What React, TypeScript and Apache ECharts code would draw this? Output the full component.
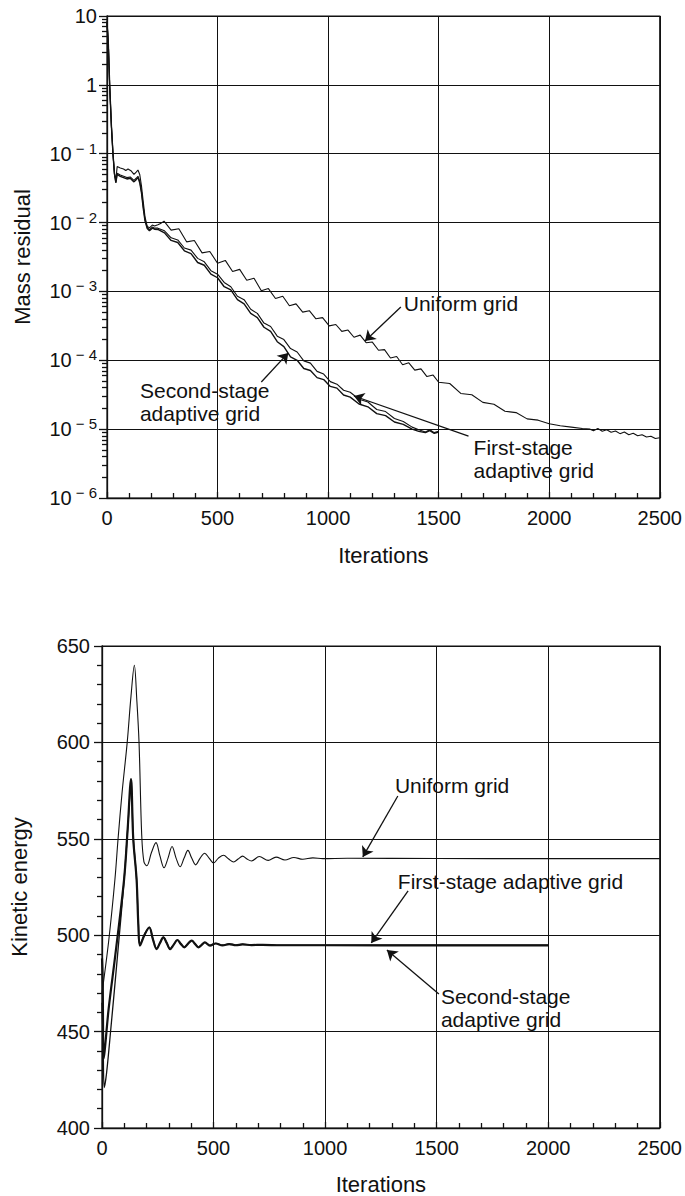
import React, { useEffect, useRef } from "react";
import * as echarts from "echarts";

// ---------- axes / ticks ----------
const iterTicks = [0, 500, 1000, 1500, 2000, 2500];
const massTickValues = [1e-6, 1e-5, 1e-4, 1e-3, 1e-2, 1e-1, 1, 10];
const massTickBase = ["10", "10", "10", "10", "10", "10", "1", "10"];
const massTickExp = ["− 6", "− 5", "− 4", "− 3", "− 2", "− 1", "", ""];
const minorMultipliers = [2, 3, 4, 5, 6, 7, 8, 9];
const minorDecades = [1e-6, 1e-5, 1e-4, 1e-3, 1e-2, 1e-1, 1];
const keTicks = [400, 450, 500, 550, 600, 650];

// ---------- top chart: mass residual vs iterations ----------
const massUniform: [number, number][] = [
  [0, 8.5], [6, 4], [12, 1.0], [20, 0.25], [27, 0.1], [34, 0.05], [40, 0.042], [46, 0.065],
  [60, 0.062], [75, 0.06], [85, 0.057], [95, 0.06], [110, 0.056], [122, 0.05], [132, 0.054],
  [140, 0.058], [148, 0.05], [156, 0.034], [164, 0.02], [172, 0.012], [182, 0.0088], [192, 0.0084],
  [205, 0.0092], [215, 0.0089], [230, 0.0093], [245, 0.0098], [258, 0.0105], [290, 0.00776],
  [325, 0.00813], [360, 0.00525], [395, 0.0055], [430, 0.00363], [465, 0.0038], [500, 0.00257],
  [535, 0.00282], [568, 0.00195], [600, 0.00209], [632, 0.00145], [665, 0.00155], [698, 0.00102],
  [730, 0.0011], [762, 7.9e-4], [795, 8.5e-4], [825, 6.2e-4], [855, 6.6e-4], [885, 5.0e-4],
  [915, 5.25e-4], [945, 4.0e-4], [975, 4.17e-4], [1005, 3.16e-4], [1035, 3.31e-4], [1062, 2.63e-4],
  [1090, 2.75e-4], [1117, 2.16e-4], [1145, 2.32e-4], [1172, 1.8e-4], [1200, 1.84e-4], [1228, 1.4e-4],
  [1255, 1.43e-4], [1282, 1.08e-4], [1310, 1.135e-4], [1337, 8.6e-5], [1365, 9.2e-5], [1392, 7.2e-5],
  [1420, 7.5e-5], [1447, 5.8e-5], [1475, 6.1e-5], [1500, 4.8e-5], [1550, 4.6e-5], [1600, 3.3e-5],
  [1650, 3.16e-5], [1700, 2.45e-5], [1750, 2.3e-5], [1800, 1.82e-5], [1850, 1.74e-5], [1900, 1.41e-5],
  [1950, 1.35e-5], [2000, 1.2e-5], [2050, 1.12e-5], [2100, 1.07e-5], [2150, 1.02e-5], [2185, 1.0e-5],
  [2200, 9.5e-6], [2220, 1.02e-5], [2240, 9.3e-6], [2260, 9.8e-6], [2280, 9.0e-6], [2300, 9.4e-6],
  [2320, 8.6e-6], [2340, 9.1e-6], [2360, 8.3e-6], [2380, 8.7e-6], [2400, 8.0e-6], [2420, 8.3e-6],
  [2440, 7.7e-6], [2460, 7.9e-6], [2480, 7.3e-6], [2500, 7.5e-6],
];

const massFirstStage: [number, number][] = [
  [0, 8.0], [6, 4], [12, 1.0], [20, 0.25], [27, 0.1], [34, 0.05], [40, 0.038], [46, 0.052],
  [60, 0.049], [75, 0.047], [90, 0.045], [105, 0.046], [122, 0.041], [132, 0.044], [140, 0.047],
  [148, 0.04], [156, 0.028], [164, 0.017], [172, 0.011], [182, 0.0085], [192, 0.0079], [205, 0.0086],
  [215, 0.0083], [230, 8.3e-3], [260, 7.6e-3], [290, 6.0e-3], [320, 5.6e-3], [350, 4.27e-3],
  [380, 3.98e-3], [410, 3.02e-3], [440, 2.69e-3], [470, 2.0e-3], [500, 1.78e-3], [530, 1.35e-3],
  [560, 1.17e-3], [590, 8.5e-4], [620, 7.6e-4], [650, 5.5e-4], [680, 4.8e-4], [710, 3.47e-4],
  [740, 3.09e-4], [770, 2.24e-4], [800, 2.0e-4], [830, 1.48e-4], [860, 1.32e-4], [890, 9.8e-5],
  [920, 9.1e-5], [950, 6.9e-5], [980, 6.3e-5], [1010, 4.9e-5], [1040, 4.5e-5], [1070, 3.67e-5],
  [1100, 3.43e-5], [1140, 2.72e-5], [1180, 2.48e-5], [1220, 1.93e-5], [1260, 1.8e-5], [1300, 1.43e-5],
  [1340, 1.29e-5], [1380, 1.07e-5], [1410, 9.8e-6], [1440, 9.1e-6], [1460, 9.8e-6], [1480, 8.9e-6],
  [1500, 9.3e-6],
];

const massSecondStage: [number, number][] = [
  [0, 8.0], [6, 4], [12, 1.0], [20, 0.25], [27, 0.1], [34, 0.05], [40, 0.038], [46, 0.05],
  [60, 0.047], [75, 0.045], [90, 0.043], [105, 0.044], [122, 0.039], [132, 0.042], [140, 0.045],
  [148, 0.038], [156, 0.027], [164, 0.016], [172, 0.0105], [182, 0.0082], [192, 0.0076], [205, 0.0083],
  [215, 0.008], [230, 7.94e-3], [260, 7.08e-3], [290, 5.5e-3], [320, 5.13e-3], [350, 3.89e-3],
  [380, 3.55e-3], [410, 2.63e-3], [440, 2.4e-3], [470, 1.78e-3], [500, 1.58e-3], [530, 1.17e-3],
  [560, 1.05e-3], [590, 7.6e-4], [620, 6.6e-4], [650, 4.8e-4], [680, 4.17e-4], [710, 3.02e-4],
  [740, 2.63e-4], [770, 1.86e-4], [800, 1.58e-4], [830, 1.12e-4], [860, 1.0e-4], [890, 7.6e-5],
  [920, 7.1e-5], [950, 5.6e-5], [980, 5.25e-5], [1010, 4.17e-5], [1040, 3.94e-5], [1070, 3.13e-5],
  [1100, 2.92e-5], [1140, 2.32e-5], [1180, 2.11e-5], [1220, 1.68e-5], [1260, 1.57e-5], [1300, 1.27e-5],
  [1340, 1.17e-5], [1380, 1.0e-5], [1410, 9.3e-6], [1440, 8.9e-6], [1460, 9.5e-6], [1480, 8.7e-6],
  [1500, 9.1e-6],
];

// ---------- bottom chart: kinetic energy vs iterations ----------
const keUniform: [number, number][] = [
  [0, 470], [30, 497], [58, 529], [72, 550], [90, 574], [113, 600], [130, 624], [145, 640],
  [156, 622], [166, 600], [178, 552], [188, 538], [201, 536], [222, 543], [242, 548], [260, 541],
  [278, 535], [296, 540], [314, 546], [332, 540], [350, 535.5], [368, 540], [385, 544], [402, 540],
  [420, 536.5], [440, 540], [460, 542.5], [480, 540], [500, 537.5], [522, 540], [545, 541.5],
  [568, 539.5], [590, 538], [610, 539.5], [630, 541], [650, 539.5], [670, 538.5], [705, 540.8],
  [745, 538.8], [780, 540.5], [820, 539], [860, 540.3], [900, 539.4], [945, 540.1], [990, 539.7],
  [1100, 539.9], [1500, 539.8], [2000, 539.7], [2500, 539.7],
];

const keFirstStage: [number, number][] = [
  [0, 465], [5, 445], [10, 421], [20, 428], [40, 452], [70, 490], [100, 530], [118, 560], [130, 579],
  [140, 551], [155, 529], [163, 506], [170, 495], [190, 500.3], [212, 504.2], [228, 498.2],
  [245, 493], [260, 496.1], [275, 499], [290, 496.1], [305, 493], [321, 495.1], [338, 497.6],
  [353, 495.6], [369, 493.8], [385, 495.6], [402, 497.2], [417, 495.6], [432, 493.8], [447, 495.1],
  [461, 496.3], [484, 494.7], [510, 495.8], [540, 494.8], [570, 495.5], [600, 494.9], [630, 495.3],
  [670, 495], [720, 495.1], [800, 494.9], [1000, 494.9], [1500, 494.8], [2000, 494.8],
];

const keSecondStage: [number, number][] = [
  [0, 488], [3, 478], [7, 436], [12, 440], [30, 462], [60, 490], [99, 529], [115, 555], [130, 581],
  [140, 550], [155, 529], [163, 505], [170, 494.6], [190, 500], [212, 504], [228, 498], [245, 492.8],
  [260, 496], [275, 498.9], [290, 496], [305, 492.8], [321, 495], [338, 497.5], [353, 495.5],
  [369, 493.7], [385, 495.5], [402, 497.2], [417, 495.5], [432, 493.7], [447, 495], [461, 496.3],
  [484, 494.6], [510, 495.7], [540, 494.7], [570, 495.4], [600, 494.8], [630, 495.2], [670, 494.9],
  [720, 495], [800, 494.8], [1000, 494.8], [1500, 494.7], [2000, 494.7],
];

// ---------- annotations (data coordinates) ----------
const massLabels = [
  { text: "Uniform grid", at: [1342, 6.6e-4] },
  { text: "Second-stage\nadaptive grid", at: [149, 2.48e-5] },
  { text: "First-stage\nadaptive grid", at: [1658, 3.63e-6] },
];
const massArrows = [
  { from: [1329, 5.94e-4], to: [1167, 1.9e-4] },
  { from: [698, 4.84e-5], to: [820, 1.28e-4] },
  { from: [1635, 7.9e-6], to: [1117, 3.03e-5] },
];
const keLabels = [
  { text: "Uniform grid", at: [1313, 577.4] },
  { text: "First-stage adaptive grid", at: [1326, 528.1] },
  { text: "Second-stage\nadaptive grid", at: [1519, 462.5] },
];
const keArrows = [
  { from: [1326, 572.2], to: [1169, 540.6] },
  { from: [1372, 523], to: [1207, 496] },
  { from: [1510, 469.5], to: [1277, 492.3] },
];

const FONT = "'Liberation Sans', Arial, Helvetica, sans-serif";
const INK = "#111";

function markLineFor(arrows: { from: number[]; to: number[] }[]) {
  return {
    silent: true,
    symbol: ["none", "arrow"],
    symbolSize: 10,
    label: { show: false },
    lineStyle: { color: INK, width: 1.3, type: "solid" },
    emphasis: { disabled: true },
    data: arrows.map((a) => [{ coord: a.from }, { coord: a.to }]),
  };
}

function markPointFor(labels: { text: string; at: number[] }[]) {
  return {
    silent: true,
    symbol: "circle",
    symbolSize: 0,
    data: labels.map((l) => ({
      coord: l.at,
      label: {
        show: true,
        position: "inside",
        align: "left",
        verticalAlign: "middle",
        formatter: l.text,
        fontSize: 21,
        lineHeight: 23,
        color: INK,
        fontFamily: FONT,
      },
    })),
  };
}

export default function App() {
  const ref = useRef<HTMLDivElement>(null);

  useEffect(() => {
    document.body.style.margin = "0";
    if (!ref.current) return;
    const chart = echarts.init(ref.current, undefined, { renderer: "svg" });

    // minor tick positions of the log axis, expressed as log10 for an overlaid linear axis
    const minorLogVals = minorDecades.flatMap((d) => minorMultipliers.map((m) => Math.log10(m * d)));
    const lineStyleAxis = { color: INK, width: 1.3 };
    const tickLabel = { fontSize: 20, color: INK, fontFamily: FONT };
    const nameStyle = { fontSize: 22, color: INK, fontFamily: FONT };

    const xAxisBase = (gridIndex: number) => ({
      gridIndex,
      type: "value",
      min: iterTicks[0],
      max: iterTicks[iterTicks.length - 1],
      interval: 500,
      name: "Iterations",
      nameLocation: "middle",
      nameGap: 46,
      nameTextStyle: nameStyle,
      axisLine: { show: true, onZero: false, lineStyle: lineStyleAxis },
      axisTick: { show: true, inside: true, length: 6, lineStyle: lineStyleAxis },
      minorTick: { show: true, splitNumber: 5, length: 5, lineStyle: { color: INK, width: 1.3 } },
      axisLabel: { ...tickLabel, margin: 10, formatter: (v: number) => String(v) },
      splitLine: { show: true, lineStyle: { color: INK, width: 1 } },
    });

    const option: any = {
      animation: false,
      backgroundColor: "#ffffff",
      grid: [
        { left: 107, top: 16, width: 555, height: 482, show: true, borderColor: INK, borderWidth: 1.2, backgroundColor: "transparent" },
        { left: 102, top: 646, width: 559, height: 483, show: true, borderColor: INK, borderWidth: 1.2, backgroundColor: "transparent" },
      ],
      xAxis: [xAxisBase(0), { ...xAxisBase(1), nameGap: 45 }],
      yAxis: [
        {
          gridIndex: 0,
          type: "log",
          logBase: 10,
          min: massTickValues[0],
          max: massTickValues[massTickValues.length - 1],
          splitNumber: 7,
          name: "Mass residual",
          nameLocation: "middle",
          nameGap: 74,
          nameTextStyle: nameStyle,
          axisLine: { show: true, lineStyle: lineStyleAxis },
          axisTick: { show: true, inside: false, length: 8, lineStyle: lineStyleAxis },
          splitLine: { show: true, lineStyle: { color: INK, width: 1 } },
          axisLabel: {
            margin: 10,
            formatter: (v: number) => {
              const i = massTickValues.findIndex((t) => Math.abs(Math.log10(t) - Math.log10(v)) < 1e-6);
              if (i < 0) return "";
              return massTickExp[i] ? `{b|${massTickBase[i]}}{s|${massTickExp[i]}}` : `{b|${massTickBase[i]}}`;
            },
            rich: {
              b: { fontSize: 20, color: INK, fontFamily: FONT, lineHeight: 26 },
              s: { fontSize: 15, color: INK, fontFamily: FONT, verticalAlign: "top", lineHeight: 15, padding: [0, 0, 0, 4] },
            },
          },
        },
        {
          gridIndex: 0,
          type: "value",
          min: -6,
          max: 1,
          interval: 1,
          position: "left",
          offset: 0,
          axisLine: { show: false },
          axisLabel: { show: false },
          splitLine: { show: false },
          axisTick: { show: true, inside: false, length: 5, customValues: minorLogVals, lineStyle: { color: INK, width: 1.3 } },
        },
        {
          gridIndex: 1,
          type: "value",
          min: keTicks[0],
          max: keTicks[keTicks.length - 1],
          interval: 50,
          name: "Kinetic energy",
          nameLocation: "middle",
          nameGap: 72,
          nameTextStyle: nameStyle,
          axisLine: { show: true, lineStyle: lineStyleAxis },
          axisTick: { show: true, inside: false, length: 8, lineStyle: lineStyleAxis },
          minorTick: { show: true, splitNumber: 5, length: 5, lineStyle: { color: INK, width: 1.3 } },
          axisLabel: { ...tickLabel, margin: 12 },
          splitLine: { show: true, lineStyle: { color: INK, width: 1 } },
        },
      ],
      series: [
        {
          name: "Uniform grid",
          type: "line",
          xAxisIndex: 0,
          yAxisIndex: 0,
          data: massUniform,
          showSymbol: false,
          lineStyle: { color: INK, width: 1.1 },
          markLine: markLineFor(massArrows),
          markPoint: markPointFor(massLabels),
        },
        {
          name: "First-stage adaptive grid",
          type: "line",
          xAxisIndex: 0,
          yAxisIndex: 0,
          data: massFirstStage,
          showSymbol: false,
          lineStyle: { color: INK, width: 1.1 },
        },
        {
          name: "Second-stage adaptive grid",
          type: "line",
          xAxisIndex: 0,
          yAxisIndex: 0,
          data: massSecondStage,
          showSymbol: false,
          lineStyle: { color: INK, width: 1.4 },
        },
        {
          name: "Uniform grid KE",
          type: "line",
          xAxisIndex: 1,
          yAxisIndex: 2,
          data: keUniform,
          showSymbol: false,
          smooth: 0.35,
          lineStyle: { color: INK, width: 1.1 },
          markLine: markLineFor(keArrows),
          markPoint: markPointFor(keLabels),
        },
        {
          name: "First-stage KE",
          type: "line",
          xAxisIndex: 1,
          yAxisIndex: 2,
          data: keFirstStage,
          showSymbol: false,
          smooth: 0.35,
          lineStyle: { color: INK, width: 1.3 },
        },
        {
          name: "Second-stage KE",
          type: "line",
          xAxisIndex: 1,
          yAxisIndex: 2,
          data: keSecondStage,
          showSymbol: false,
          smooth: 0.35,
          lineStyle: { color: INK, width: 2.2 },
        },
      ],
    };

    chart.setOption(option);
    return () => chart.dispose();
  }, []);

  return <div ref={ref} style={{ width: 685, height: 1196 }} />;
}
